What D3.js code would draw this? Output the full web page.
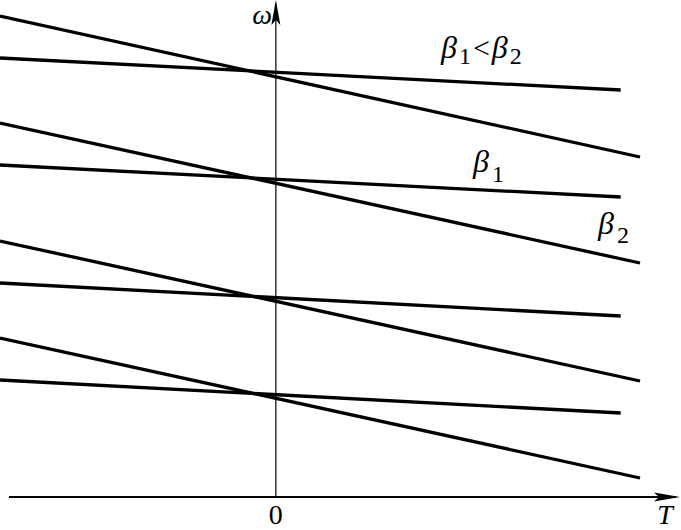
<!DOCTYPE html>
<html>
<head>
<meta charset="utf-8">
<script src="https://cdn.jsdelivr.net/npm/d3@7"></script>
<style>
  body { margin: 0; background: #fff; }
  svg text, svg tspan { font-family: "Liberation Serif", "Times New Roman", Times, "DejaVu Serif", serif; fill: #000; }
</style>
</head>
<body>
<div id="chart"></div>
<script>
const WIDTH = 681,
    HEIGHT = 530;

// T positions of line ends
const T_START = -4,
    SHALLOW_END_T = 5,
    STEEP_END_T = 5.28;

// omega values (shallow = beta1, steep = beta2)
const shallowStart = [43.9, 33.2, 21.4, 11.7];
const shallowEnd = [40.7, 30.0, 18.1, 8.4];
const steepStart = [48.1, 37.4, 25.6, 15.9];
const steepEnd = [34.0, 23.4, 11.6, 1.9];

const svg = d3.select("#chart")
    .append("svg")
    .attr("width", WIDTH)
    .attr("height", HEIGHT);

// Scales
const xScale = d3.scaleLinear()
    .domain([-4, 5.86])
    .range([0, 680]);
const yScale = d3.scaleLinear()
    .domain([0, 49.7])
    .range([497, 0]);

const line = d3.line()
    .x(d => xScale(d[0]))
    .y(d => yScale(d[1]));

const shallowLines = shallowStart.map((w, i) => [[T_START, w], [SHALLOW_END_T, shallowEnd[i]]]);
const steepLines = steepStart.map((w, i) => [[T_START, w], [STEEP_END_T, steepEnd[i]]]);

// Axes
const x0 = xScale(0), y0 = yScale(0);

svg.append("line")
    .attr("x1", x0).attr("y1", y0)
    .attr("x2", x0).attr("y2", 4)
    .attr("stroke", "#000")
    .attr("stroke-width", 1.2);

svg.append("line")
    .attr("x1", xScale(-3.87)).attr("y1", y0)
    .attr("x2", 676).attr("y2", y0)
    .attr("stroke", "#000")
    .attr("stroke-width", 2);

// arrow heads
svg.append("path")
    .attr("d", `M${x0},0 L${x0 + 4.5},25 L${x0},20 L${x0 - 4.5},25 Z`)
    .attr("fill", "#000");
svg.append("path")
    .attr("d", `M680,${y0} L654,${y0 - 4.5} L659,${y0} L654,${y0 + 4.5} Z`)
    .attr("fill", "#000");

// Lines
svg.selectAll(".shallow")
    .data(shallowLines)
    .join("path")
    .attr("class", "shallow")
    .attr("d", line)
    .attr("fill", "none")
    .attr("stroke", "#000")
    .attr("stroke-width", 3.3);

svg.selectAll(".steep")
    .data(steepLines)
    .join("path")
    .attr("class", "steep")
    .attr("d", line)
    .attr("fill", "none")
    .attr("stroke", "#000")
    .attr("stroke-width", 3.3);

// Axis labels
svg.append("text")
    .attr("x", 272)
    .attr("y", 24)
    .attr("text-anchor", "end")
    .style("font-size", "28px")
    .style("font-style", "italic")
    .text("ω");

svg.append("text")
    .attr("x", x0)
    .attr("y", 524)
    .attr("text-anchor", "middle")
    .style("font-size", "28px")
    .text("0");

svg.append("text")
    .attr("x", 665)
    .attr("y", 524)
    .attr("text-anchor", "middle")
    .style("font-size", "28px")
    .style("font-style", "italic")
    .text("T");

// beta labels
function betaLabel(x, y, parts) {
    const t = svg.append("text").attr("x", x).attr("y", y);
    parts.forEach(p => {
        t.append("tspan")
            .attr("dy", p.dy || 0)
            .attr("dx", p.dx || 0)
            .style("font-size", p.size + "px")
            .style("font-style", p.italic ? "italic" : "normal")
            .text(p.s);
    });
}

betaLabel(441, 58, [
    { s: "β", size: 32, italic: true },
    { s: "1", size: 24, dy: 6, dx: 2 },
    { s: "<", size: 30, dy: -6, dx: 2 },
    { s: "β", size: 32, italic: true, dx: 2 },
    { s: "2", size: 24, dy: 6, dx: 2 }
]);

betaLabel(473, 172, [
    { s: "β", size: 32, italic: true },
    { s: "1", size: 24, dy: 10, dx: 3 }
]);

betaLabel(598, 234, [
    { s: "β", size: 32, italic: true },
    { s: "2", size: 24, dy: 9, dx: 3 }
]);
</script>
</body>
</html>
